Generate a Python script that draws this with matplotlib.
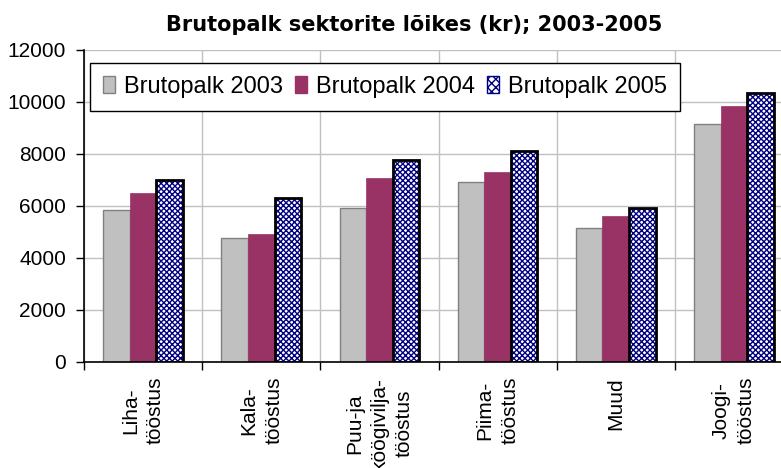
import numpy as np
import matplotlib
matplotlib.use('Agg')
import matplotlib.pyplot as plt
from matplotlib.patches import Patch

plt.rcParams['font.family'] = ['Liberation Sans', 'DejaVu Sans']
plt.rcParams['hatch.linewidth'] = 1.0

categories = ['Liha-\ntööstus', 'Kala-\ntööstus', 'Puu-ja\nköögivilja-\ntööstus',
              'Piima-\ntööstus', 'Muud', 'Joogi-\ntööstus']
series_names = ['Brutopalk 2003', 'Brutopalk 2004', 'Brutopalk 2005']
v2003 = [5830, 4750, 5900, 6910, 5140, 9140]
v2004 = [6480, 4910, 7080, 7310, 5600, 9850]
v2005 = [7000, 6300, 7750, 8100, 5900, 10350]
yticks = [0, 2000, 4000, 6000, 8000, 10000, 12000]

W, H = 781, 468
fig = plt.figure(figsize=(W / 100, H / 100), dpi=100)
ax = fig.add_axes([84 / W, 1 - 361.7 / H, (793 - 84) / W, 312 / H])

n = len(categories)
centers = np.arange(n) + 0.5
bw = 0.225

ax.bar(centers - bw, v2003, bw, color='#c0c0c0', edgecolor='#808080', lw=1, zorder=3)
ax.bar(centers, v2004, bw, color='#993366', edgecolor='#993366', lw=0.5, zorder=3)
# checkerboard-ish fill, then a heavy black outline
ax.bar(centers + bw, v2005, bw, color='white', edgecolor='#000080', hatch='xxxxxx',
       lw=0, zorder=3)
ax.bar(centers + bw, v2005, bw, fill=False, edgecolor='black', lw=2, zorder=4)

ax.set_xlim(0, n)
ax.set_ylim(0, 12000)
ax.set_yticks(yticks)
ax.tick_params(axis='y', labelsize=15, length=6, width=1, pad=7, direction='out')

# labels at category centres, tick marks + grid at category boundaries
ax.set_xticks(centers)
ax.set_xticklabels(categories, rotation=90, fontsize=15, va='top', ha='center',
                   multialignment='center', linespacing=1.4)
ax.tick_params(axis='x', which='major', length=0, pad=11)
ax.set_xticks(np.arange(n + 1), minor=True)
ax.tick_params(axis='x', which='minor', length=6, width=1, direction='out')

ax.grid(axis='y', which='major', color='#c0c0c0', lw=1, zorder=0)
ax.grid(axis='x', which='minor', color='#c0c0c0', lw=1, zorder=0)
ax.set_axisbelow(True)
for s in ['top', 'right']:
    ax.spines[s].set_visible(False)
for s in ['left', 'bottom']:
    ax.spines[s].set_linewidth(1.2)
    ax.spines[s].set_zorder(5)

handles = [
    Patch(facecolor='#c0c0c0', edgecolor='#808080', lw=1),
    Patch(facecolor='#993366', edgecolor='#993366', lw=1),
    Patch(facecolor='white', edgecolor='#000080', hatch='xxxx', lw=1),
]
leg = fig.legend(handles, series_names, ncol=3, loc='upper left',
                 bbox_to_anchor=(90 / W, 1 - 63 / H), bbox_transform=fig.transFigure,
                 fontsize=17, frameon=True, fancybox=False, edgecolor='black',
                 framealpha=1, borderaxespad=0, handlelength=0.5, handleheight=0.7,
                 handletextpad=0.4, columnspacing=0.5, borderpad=0.55)
leg.get_frame().set_linewidth(1)

fig.text(414 / W, 1 - 30.7 / H, 'Brutopalk sektorite lõikes (kr); 2003-2005',
         family='DejaVu Sans', weight='bold', fontsize=15, ha='center', va='baseline')

fig.savefig('out.png', dpi=100)
